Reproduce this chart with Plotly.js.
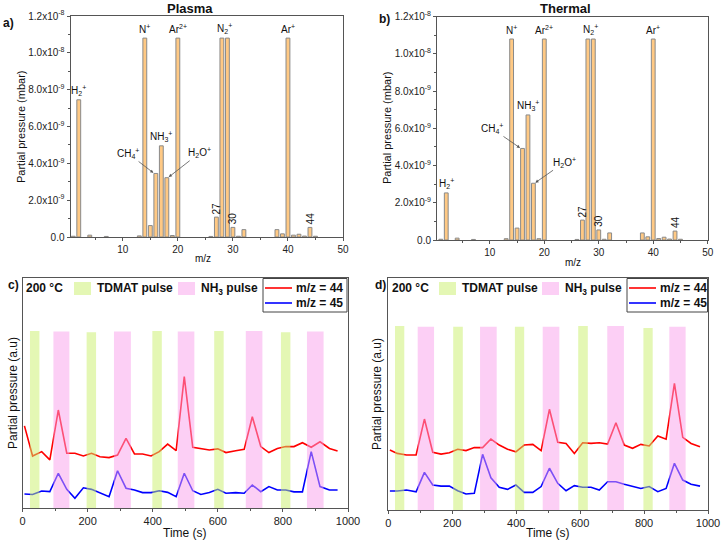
<!DOCTYPE html>
<html><head><meta charset="utf-8">
<script src="https://cdn.plot.ly/plotly-3.0.1.min.js"></script>
<style>html,body{margin:0;padding:0;background:#fff}#chart{width:722px;height:542px}</style>
</head><body><div id="chart"></div>
<script>
// ---------- data: mass spectra ----------
const mz = [1, 2, 4, 7, 13, 14, 15, 16, 17, 18, 19, 20, 26, 27, 28, 29, 30, 31, 32, 38, 39, 40, 41, 42, 43, 44, 45];
const plasmaP = [0.04e-9, 7.45e-9, 0.10e-9, 0.03e-9, 0.06e-9, 10.8e-9, 0.62e-9, 3.45e-9, 4.95e-9, 3.22e-9, 0.08e-9, 10.8e-9, 0.03e-9, 1.08e-9, 10.8e-9, 10.8e-9, 0.52e-9, 0.04e-9, 0.40e-9, 0.40e-9, 0.17e-9, 10.8e-9, 0.10e-9, 0.15e-9, 0.05e-9, 0.52e-9, 0.04e-9];
const thermalP = [0.04e-9, 2.53e-9, 0.10e-9, 0.03e-9, 0.07e-9, 10.8e-9, 0.64e-9, 4.92e-9, 6.72e-9, 3.05e-9, 0.07e-9, 10.8e-9, 0.03e-9, 1.07e-9, 10.8e-9, 10.8e-9, 0.54e-9, 0.04e-9, 0.38e-9, 0.38e-9, 0.17e-9, 10.8e-9, 0.08e-9, 0.15e-9, 0.05e-9, 0.48e-9, 0.04e-9];
const yTickVals = [0, 2e-9, 4e-9, 6e-9, 8e-9, 1.0e-8, 1.2e-8];
const yTickText = ['0.0', '2.0x10<sup>-9</sup>', '4.0x10<sup>-9</sup>', '6.0x10<sup>-9</sup>', '8.0x10<sup>-9</sup>', '1.0x10<sup>-8</sup>', '1.2x10<sup>-8</sup>'];
// ion labels: [m/z, text]
const topLabels = [[14, 'N<sup>+</sup>'], [20, 'Ar<sup>2+</sup>'], [28.5, 'N<sub>2</sub><sup>+</sup>'], [40, 'Ar<sup>+</sup>']];
const rotLabels = [27, 30, 44];

// ---------- data: time series ----------
const tC = [6, 31, 59, 84, 110, 136, 161, 187, 212, 238, 266, 292, 318, 344, 369, 395, 420, 446, 472, 497, 523, 548, 574, 600, 625, 655, 681, 706, 732, 757, 783, 809, 834, 860, 887, 914, 943, 968];
const c44 = [3.57, 2.26, 2.45, 2.09, 4.26, 2.38, 2.38, 2.26, 2.38, 2.23, 2.19, 2.30, 3.03, 2.35, 2.35, 2.26, 2.45, 2.78, 2.49, 5.71, 2.64, 2.59, 2.52, 2.57, 2.41, 2.49, 2.55, 3.97, 2.67, 2.41, 2.59, 2.67, 2.67, 2.84, 2.64, 2.88, 2.59, 2.48];
const c45 = [0.61, 0.59, 0.74, 0.71, 1.51, 0.81, 0.42, 0.88, 0.81, 0.67, 0.49, 1.62, 0.86, 0.78, 0.67, 0.67, 0.75, 0.68, 0.49, 1.51, 0.75, 0.59, 0.67, 0.81, 0.64, 0.67, 0.64, 1.00, 0.71, 0.93, 0.78, 0.78, 0.70, 0.70, 2.45, 0.93, 0.78, 0.78];
const tD = [5, 28, 57, 87, 113, 139, 165, 191, 217, 243, 269, 295, 321, 347, 373, 399, 425, 452, 478, 504, 530, 556, 582, 608, 634, 660, 686, 712, 738, 764, 790, 816, 843, 869, 895, 921, 947, 975];
const d44 = [2.59, 2.44, 2.37, 2.37, 3.92, 2.49, 2.41, 2.47, 2.62, 2.56, 2.69, 2.69, 3.06, 2.80, 2.62, 2.51, 2.80, 2.83, 2.56, 4.34, 2.92, 2.87, 2.44, 2.90, 2.87, 2.90, 2.84, 3.76, 2.80, 2.66, 2.83, 2.76, 3.19, 3.05, 5.46, 3.13, 2.87, 2.73];
const d45 = [0.82, 0.82, 0.86, 0.78, 1.62, 1.08, 1.03, 1.03, 0.83, 0.69, 0.72, 2.40, 1.39, 0.98, 0.89, 1.08, 0.76, 0.76, 1.01, 1.80, 1.15, 0.83, 1.05, 0.98, 0.98, 0.86, 1.22, 1.22, 1.11, 1.01, 0.93, 1.01, 0.79, 0.93, 2.01, 1.29, 1.11, 1.03];
// pulses
const cTdmatStart = [23, 197, 399, 589, 794], cTdmatEnd = [52, 226, 428, 618, 823], cTdmatTop = [7.70, 7.64, 7.70, 7.70, 7.64];
const cNh3Start = [95, 281, 477, 686, 874], cNh3End = [144, 333, 528, 737, 925], cNh3Top = [7.67, 7.67, 7.67, 7.70, 7.67];
const dTdmatStart = [21, 203, 396, 594, 798], dTdmatEnd = [50, 233, 425, 624, 827], dTdmatTop = [7.93, 7.90, 7.90, 7.93, 7.85];
const dNh3Start = [92, 287, 483, 685, 879], dNh3End = [143, 339, 535, 737, 930], dNh3Top = [7.90, 7.90, 7.90, 7.93, 7.90];

// ---------- helpers ----------
const W = 722, H = 542;
const px = x => x / W, py = y => 1 - y / H;
const FONT = 'Liberation Sans, Arial, sans-serif';
const AX = '#555';
const BAR_FILL = '#FFC984', BAR_LINE = '#8a8a8a';
const GREEN = '#C9EF69', PINK = '#F99FEB';

const traces = [];
traces.push({type: 'bar', x: mz, y: plasmaP, width: 0.7, xaxis: 'x', yaxis: 'y',
  marker: {color: BAR_FILL, line: {color: BAR_LINE, width: 1}}, showlegend: false, hoverinfo: 'skip'});
traces.push({type: 'bar', x: mz, y: thermalP, width: 0.7, xaxis: 'x2', yaxis: 'y2',
  marker: {color: BAR_FILL, line: {color: BAR_LINE, width: 1}}, showlegend: false, hoverinfo: 'skip'});
traces.push({type: 'scatter', mode: 'lines', x: tC, y: c44, xaxis: 'x3', yaxis: 'y3', line: {color: '#FF0000', width: 1.6}, showlegend: false});
traces.push({type: 'scatter', mode: 'lines', x: tC, y: c45, xaxis: 'x3', yaxis: 'y3', line: {color: '#0000FF', width: 1.6}, showlegend: false});
traces.push({type: 'scatter', mode: 'lines', x: tD, y: d44, xaxis: 'x4', yaxis: 'y4', line: {color: '#FF0000', width: 1.6}, showlegend: false});
traces.push({type: 'scatter', mode: 'lines', x: tD, y: d45, xaxis: 'x4', yaxis: 'y4', line: {color: '#0000FF', width: 1.6}, showlegend: false});

function frameAxis(extra) {
  return Object.assign({showline: true, linecolor: AX, linewidth: 1, mirror: true, zeroline: false, showgrid: false,
    ticks: 'outside', tickcolor: AX, ticklen: 3, tickfont: {family: FONT, size: 10, color: '#222'}}, extra);
}

const layout = {
  width: W, height: H, margin: {l: 0, r: 0, t: 0, b: 0}, paper_bgcolor: '#fff', plot_bgcolor: '#fff',
  showlegend: false, bargap: 0, font: {family: FONT, color: '#111'},
  xaxis: frameAxis({domain: [px(70.5), px(343)], range: [0.5, 50], tickvals: [10, 20, 30, 40, 50], anchor: 'y',
    minor: {dtick: 5, tick0: 0, ticks: 'outside', ticklen: 2, tickcolor: AX}}),
  yaxis: frameAxis({domain: [py(237), py(16)], range: [0, 1.2e-8], tickvals: yTickVals, ticktext: yTickText, anchor: 'x',
    tickfont: {family: FONT, size: 10, color: '#222'}, minor: {dtick: 1e-9, tick0: 0, ticks: 'outside', ticklen: 2, tickcolor: AX}}),
  xaxis2: frameAxis({domain: [px(437), px(707.7)], range: [0.3, 50], tickvals: [10, 20, 30, 40, 50], anchor: 'y2',
    minor: {dtick: 5, tick0: 0, ticks: 'outside', ticklen: 2, tickcolor: AX}}),
  yaxis2: frameAxis({domain: [py(240), py(16.7)], range: [0, 1.2e-8], tickvals: yTickVals, ticktext: yTickText, anchor: 'x2',
    tickfont: {family: FONT, size: 10, color: '#222'}, minor: {dtick: 1e-9, tick0: 0, ticks: 'outside', ticklen: 2, tickcolor: AX}}),
  xaxis3: frameAxis({domain: [px(22.5), px(348)], range: [0, 1000], dtick: 200, tick0: 0, anchor: 'y3',
    tickfont: {family: FONT, size: 11, color: '#222'}, minor: {dtick: 100, ticks: 'outside', ticklen: 2, tickcolor: AX}}),
  yaxis3: frameAxis({domain: [py(508), py(278)], range: [0, 10], showticklabels: false, ticks: '', anchor: 'x3'}),
  xaxis4: frameAxis({domain: [px(388.3), px(708)], range: [0, 1000], dtick: 200, tick0: 0, anchor: 'y4',
    tickfont: {family: FONT, size: 11, color: '#222'}, minor: {dtick: 100, ticks: 'outside', ticklen: 2, tickcolor: AX}}),
  yaxis4: frameAxis({domain: [py(510), py(278)], range: [0, 10], showticklabels: false, ticks: '', anchor: 'x4'}),
  shapes: [], annotations: []
};

// pulse shapes from data arrays
function addPulses(starts, ends, tops, color, xr, yr) {
  starts.forEach((s, i) => layout.shapes.push({type: 'rect', xref: xr, yref: yr, x0: s, x1: ends[i], y0: 0, y1: tops[i],
    fillcolor: color, opacity: 0.5, line: {width: 0}, layer: 'above'}));
}
addPulses(cTdmatStart, cTdmatEnd, cTdmatTop, GREEN, 'x3', 'y3');
addPulses(cNh3Start, cNh3End, cNh3Top, PINK, 'x3', 'y3');
addPulses(dTdmatStart, dTdmatEnd, dTdmatTop, GREEN, 'x4', 'y4');
addPulses(dNh3Start, dNh3End, dNh3Top, PINK, 'x4', 'y4');

const A = layout.annotations;
function txt(x, y, text, opts) {
  A.push(Object.assign({xref: 'paper', yref: 'paper', x: px(x), y: py(y), text: text, showarrow: false,
    xanchor: 'center', yanchor: 'middle', font: {family: FONT, size: 11, color: '#111'}}, opts || {}));
}
const valAt = (arr, m) => arr[mz.indexOf(Math.round(m))];

// spectra labels
function specLabels(vals, xr, yr, cfg) {
  topLabels.forEach(([m, t]) => A.push({xref: xr, yref: yr, x: m, y: 1.08e-8, text: t, showarrow: false, xanchor: 'center', yanchor: 'bottom', yshift: 1,
    font: {family: FONT, size: 10, color: '#111'}}));
  A.push({xref: xr, yref: yr, x: 2, y: valAt(vals, 2), text: 'H<sub>2</sub><sup>+</sup>', showarrow: false, xanchor: 'center', yanchor: 'bottom', yshift: 1,
    font: {family: FONT, size: 10, color: '#111'}});
  A.push({xref: xr, yref: yr, x: 17, y: valAt(vals, 17), text: 'NH<sub>3</sub><sup>+</sup>', showarrow: false, xanchor: 'center', yanchor: 'bottom', yshift: 1,
    font: {family: FONT, size: 10, color: '#111'}});
  rotLabels.forEach(m => A.push({xref: xr, yref: yr, x: m, y: valAt(vals, m), text: String(m), showarrow: false, textangle: -90,
    xanchor: 'center', yanchor: 'bottom', yshift: 1, font: {family: FONT, size: 10, color: '#111'}}));
  A.push({xref: xr, yref: yr, x: 15.7, y: valAt(vals, 16), text: 'CH<sub>4</sub><sup>+</sup>', showarrow: true, arrowhead: 2,
    arrowsize: 0.8, arrowwidth: 0.8, arrowcolor: '#555', ax: cfg.ch4[0], ay: cfg.ch4[1], standoff: 1, font: {family: FONT, size: 10, color: '#111'}});
  A.push({xref: xr, yref: yr, x: 18.2, y: valAt(vals, 18), text: 'H<sub>2</sub>O<sup>+</sup>', showarrow: true, arrowhead: 2,
    arrowsize: 0.8, arrowwidth: 0.8, arrowcolor: '#555', ax: cfg.h2o[0], ay: cfg.h2o[1], standoff: 1, font: {family: FONT, size: 10, color: '#111'}});
}
specLabels(plasmaP, 'x', 'y', {ch4: [-26, -20], h2o: [32, -25]});
specLabels(thermalP, 'x2', 'y2', {ch4: [-29, -20], h2o: [30, -21]});

// titles and axis titles
txt(190, 9, '<b>Plasma</b>', {font: {family: FONT, size: 13, color: '#111'}});
txt(565, 9, '<b>Thermal</b>', {font: {family: FONT, size: 13, color: '#111'}});
txt(8, 23, '<b>a)</b>', {font: {family: FONT, size: 12, color: '#111'}});
txt(384, 19, '<b>b)</b>', {font: {family: FONT, size: 12, color: '#111'}});
txt(13, 285, '<b>c)</b>', {font: {family: FONT, size: 12, color: '#111'}});
txt(381, 285, '<b>d)</b>', {font: {family: FONT, size: 12, color: '#111'}});
txt(21, 127, 'Partial pressure (mbar)', {textangle: -90, font: {family: FONT, size: 11, color: '#111'}});
txt(387, 128, 'Partial pressure (mbar)', {textangle: -90, font: {family: FONT, size: 11, color: '#111'}});
txt(203, 258, 'm/z', {font: {family: FONT, size: 10, color: '#111'}});
txt(573, 262, 'm/z', {font: {family: FONT, size: 10, color: '#111'}});
txt(13, 393, 'Partial pressure (a.u)', {textangle: -90, font: {family: FONT, size: 12, color: '#111'}});
txt(377, 394, 'Partial pressure (a.u)', {textangle: -90, font: {family: FONT, size: 12, color: '#111'}});
txt(185, 533, 'Time (s)', {font: {family: FONT, size: 12, color: '#111'}});
txt(548, 533, 'Time (s)', {font: {family: FONT, size: 12, color: '#111'}});

// legends for c and d
function legendBlock(o) {
  const B = {family: FONT, size: 12, color: '#111'};
  txt(o.t200, 288, '<b>200 °C</b>', {xanchor: 'left', font: B});
  layout.shapes.push({type: 'rect', xref: 'paper', yref: 'paper', x0: px(o.g), x1: px(o.g + 17), y0: py(295), y1: py(282), fillcolor: '#E4F7B4', line: {width: 0}});
  txt(o.g + 21, 288, '<b>TDMAT pulse</b>', {xanchor: 'left', font: B});
  layout.shapes.push({type: 'rect', xref: 'paper', yref: 'paper', x0: px(o.p), x1: px(o.p + 17), y0: py(295), y1: py(282), fillcolor: '#FCCFF5', line: {width: 0}});
  txt(o.p + 21, 289, '<b>NH<sub>3</sub> pulse</b>', {xanchor: 'left', font: B});
  layout.shapes.push({type: 'rect', xref: 'paper', yref: 'paper', x0: px(o.box[0]), x1: px(o.box[1]), y0: py(312), y1: py(278.5), fillcolor: 'rgba(0,0,0,0)', line: {color: '#444', width: 1}});
  layout.shapes.push({type: 'line', xref: 'paper', yref: 'paper', x0: px(o.box[0] + 2), x1: px(o.box[0] + 29), y0: py(288), y1: py(288), line: {color: '#FF0000', width: 1.6}});
  layout.shapes.push({type: 'line', xref: 'paper', yref: 'paper', x0: px(o.box[0] + 2), x1: px(o.box[0] + 29), y0: py(303), y1: py(303), line: {color: '#0000FF', width: 1.6}});
  txt(o.box[0] + 31, 288, '<b>m/z = 44</b>', {xanchor: 'left', font: B});
  txt(o.box[0] + 31, 303, '<b>m/z = 45</b>', {xanchor: 'left', font: B});
}
legendBlock({t200: 24, g: 74, p: 178, box: [263, 347]});
legendBlock({t200: 390, g: 439, p: 542, box: [627, 707.5]});

Plotly.newPlot('chart', traces, layout, {staticPlot: true});
</script></body></html>
